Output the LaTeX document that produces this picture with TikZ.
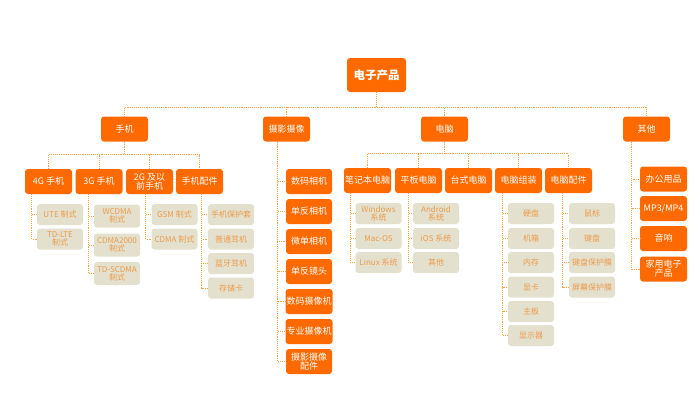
\documentclass[tikz,border=0pt]{standalone}
\usepackage{fontspec}
\setmainfont{Noto Sans CJK SC}
\usetikzlibrary{positioning}
\definecolor{org}{HTML}{FF6A00}
\definecolor{lnk}{HTML}{F7A440}
\definecolor{gry}{HTML}{E3E1CD}
\definecolor{gtx}{HTML}{EE9A4C}

\begin{document}
\begin{tikzpicture}[x=1pt,y=-1pt]
            \tikzstyle{box}=[fill=org,text=white,rounded corners=3pt,minimum width=47pt,minimum height=25pt,inner sep=1pt,align=center,font=\fontsize{9}{9}\selectfont]
            \tikzstyle{item}=[fill=gry,text=gtx,rounded corners=3pt,minimum width=46pt,minimum height=21pt,inner sep=1pt,align=center,font=\fontsize{8}{8}\selectfont]
            \tikzstyle{link}=[draw=lnk,densely dotted,line width=0.9pt]
            \useasboundingbox[fill=white] (0,0) rectangle (700,400);

            \node[box,minimum width=59pt,minimum height=34pt,font=\bfseries\fontsize{11.5}{12}\selectfont] (root) at (376.5,75) {电子产品};
            \node[box] (phone) at (124.5,129) {手机};
            \node[box] (cam) at (286.5,129) {摄影摄像};
            \node[box] (pc) at (444.5,129) {电脑};
            \node[box] (other) at (646.5,129) {其他};

            \node[box] (p4g) at (48.5,181.5) {4G 手机};
            \node[box] (p3g) at (99,181.5) {3G 手机};
            \node[box] (p2g) at (149.5,181.5) {2G 及以\\前手机};
            \node[box] (pacc) at (199.5,181.5) {手机配件};

            \node[item] (u1) at (60,214.5) {UTE 制式};
            \node[item] (u2) at (60,239) {TD-LTE\\制式};
            \node[item,minimum height=23pt] (w1) at (117,216) {WCDMA\\制式};
            \node[item,minimum height=23pt] (w2) at (117,245) {CDMA2000\\制式};
            \node[item,minimum height=23pt] (w3) at (117,273.5) {TD-SCDMA\\制式};
            \node[item] (g1) at (174.5,214.5) {GSM 制式};
            \node[item] (g2) at (174.5,239) {CDMA 制式};
            \node[item] (a1) at (231,214.5) {手机保护套};
            \node[item] (a2) at (231,239) {普通耳机};
            \node[item] (a3) at (231,263.5) {蓝牙耳机};
            \node[item] (a4) at (231,288) {存储卡};

            \node[box,minimum width=46pt] (c1) at (309,181.5) {数码相机};
            \node[box,minimum width=46pt] (c2) at (309,211.5) {单反相机};
            \node[box,minimum width=46pt] (c3) at (309,241.5) {微单相机};
            \node[box,minimum width=46pt] (c4) at (309,271.5) {单反镜头};
            \node[box,minimum width=46pt] (c5) at (309,301.5) {数码摄像机};
            \node[box,minimum width=46pt] (c6) at (309,331.5) {专业摄像机};
            \node[box,minimum width=46pt] (c7) at (309,361.5) {摄影摄像\\配件};

            \node[box] (nb) at (367.5,180.5) {笔记本电脑};
            \node[box] (tab) at (418.5,180.5) {平板电脑};
            \node[box] (desk) at (468.5,180.5) {台式电脑};
            \node[box] (asm) at (518.5,180.5) {电脑组装};
            \node[box] (pcacc) at (568.5,180.5) {电脑配件};

            \node[item] (n1) at (378.5,213.5) {Windows\\系统};
            \node[item] (n2) at (378.5,238.5) {Mac-OS};
            \node[item] (n3) at (378.5,262.5) {Linux 系统};
            \node[item] (t1) at (436,213.5) {Android\\系统};
            \node[item] (t2) at (436,238.5) {iOS 系统};
            \node[item] (t3) at (436,262.5) {其他};
            \node[item] (s1) at (531,213.5) {硬盘};
            \node[item] (s2) at (531,238.5) {机箱};
            \node[item] (s3) at (531,262.5) {内存};
            \node[item] (s4) at (531,287) {显卡};
            \node[item] (s5) at (531,311.5) {主板};
            \node[item] (s6) at (531,335.5) {显示器};
            \node[item] (k1) at (592,213.5) {鼠标};
            \node[item] (k2) at (592,238.5) {键盘};
            \node[item] (k3) at (592,262.5) {键盘保护膜};
            \node[item] (k4) at (592,287) {屏幕保护膜};

            \node[box] (o1) at (663.5,179) {办公用品};
            \node[box] (o2) at (663.5,208.5) {MP3/MP4};
            \node[box] (o3) at (663.5,238.5) {音响};
            \node[box] (o4) at (663.5,269) {家用电子\\产品};

            % top levels
            \draw[link] (root.south) -- ++(0,15) -| (phone.north);
            \draw[link] (root.south) -- ++(0,15) -| (cam.north);
            \draw[link] (root.south) -- ++(0,15) -| (pc.north);
            \draw[link] (root.south) -- ++(0,15) -| (other.north);
            \draw[link] (phone.south) -- ++(0,13) -| (p4g.north);
            \draw[link] (phone.south) -- ++(0,13) -| (p3g.north);
            \draw[link] (phone.south) -- ++(0,13) -| (p2g.north);
            \draw[link] (phone.south) -- ++(0,13) -| (pacc.north);
            \draw[link] (pc.south) -- ++(0,12) -| (nb.north);
            \draw[link] (pc.south) -- ++(0,12) -| (tab.north);
            \draw[link] (pc.south) -- ++(0,12) -| (desk.north);
            \draw[link] (pc.south) -- ++(0,12) -| (asm.north);
            \draw[link] (pc.south) -- ++(0,12) -| (pcacc.north);

            % side lists
            \draw[link] (p4g.south west) ++(7,0) |- (u1.west);
            \draw[link] (p4g.south west) ++(7,0) |- (u2.west);
            \draw[link] (p3g.south west) ++(13,0) |- (w1.west);
            \draw[link] (p3g.south west) ++(13,0) |- (w2.west);
            \draw[link] (p3g.south west) ++(13,0) |- (w3.west);
            \draw[link] (p2g.south west) ++(20,0) |- (g1.west);
            \draw[link] (p2g.south west) ++(20,0) |- (g2.west);
            \draw[link] (pacc.south west) ++(26,0) |- (a1.west);
            \draw[link] (pacc.south west) ++(26,0) |- (a2.west);
            \draw[link] (pacc.south west) ++(26,0) |- (a3.west);
            \draw[link] (pacc.south west) ++(26,0) |- (a4.west);
            \draw[link] (cam.south west) ++(15,0) |- (c1.west);
            \draw[link] (cam.south west) ++(15,0) |- (c2.west);
            \draw[link] (cam.south west) ++(15,0) |- (c3.west);
            \draw[link] (cam.south west) ++(15,0) |- (c4.west);
            \draw[link] (cam.south west) ++(15,0) |- (c5.west);
            \draw[link] (cam.south west) ++(15,0) |- (c6.west);
            \draw[link] (cam.south west) ++(15,0) |- (c7.west);
            \draw[link] (nb.south west) ++(7,0) |- (n1.west);
            \draw[link] (nb.south west) ++(7,0) |- (n2.west);
            \draw[link] (nb.south west) ++(7,0) |- (n3.west);
            \draw[link] (tab.south west) ++(14,0) |- (t1.west);
            \draw[link] (tab.south west) ++(14,0) |- (t2.west);
            \draw[link] (tab.south west) ++(14,0) |- (t3.west);
            \draw[link] (asm.south west) ++(8,0) |- (s1.west);
            \draw[link] (asm.south west) ++(8,0) |- (s2.west);
            \draw[link] (asm.south west) ++(8,0) |- (s3.west);
            \draw[link] (asm.south west) ++(8,0) |- (s4.west);
            \draw[link] (asm.south west) ++(8,0) |- (s5.west);
            \draw[link] (asm.south west) ++(8,0) |- (s6.west);
            \draw[link] (pcacc.south west) ++(18,0) |- (k1.west);
            \draw[link] (pcacc.south west) ++(18,0) |- (k2.west);
            \draw[link] (pcacc.south west) ++(18,0) |- (k3.west);
            \draw[link] (pcacc.south west) ++(18,0) |- (k4.west);
            \draw[link] (other.south west) ++(9,0) |- (o1.west);
            \draw[link] (other.south west) ++(9,0) |- (o2.west);
            \draw[link] (other.south west) ++(9,0) |- (o3.west);
            \draw[link] (other.south west) ++(9,0) |- (o4.west);
        \end{tikzpicture}
\end{document}
